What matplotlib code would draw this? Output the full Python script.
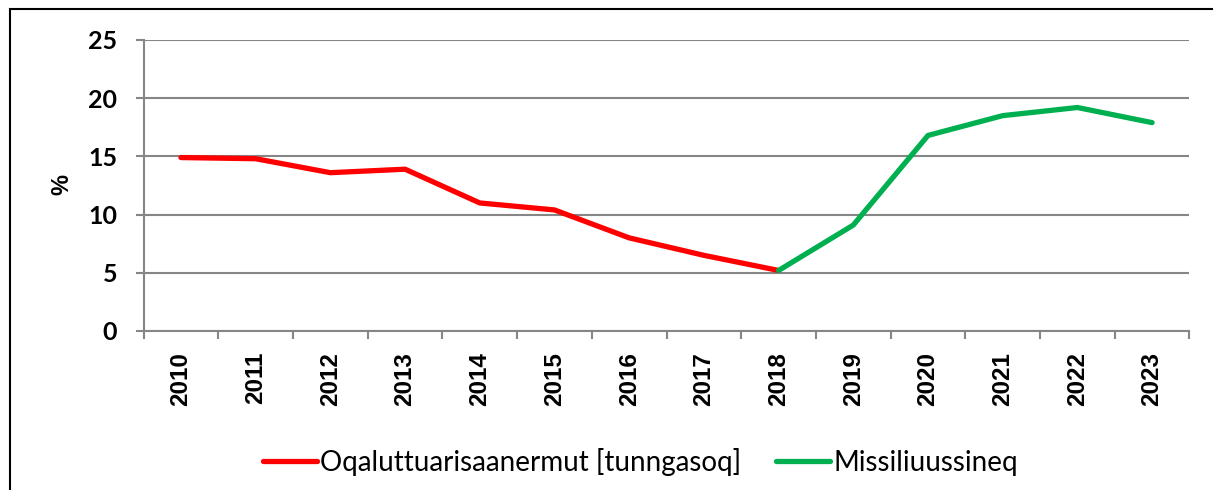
import matplotlib
matplotlib.use("Agg")
from matplotlib import pyplot as plt
from matplotlib.patches import Rectangle
from matplotlib.ticker import FixedLocator

# data
years = [str(y) for y in range(2010, 2024)]
hist_years = years[:9]          # 2010-2018
hist_vals = [14.9, 14.8, 13.6, 13.9, 11.0, 10.4, 8.0, 6.5, 5.2]
proj_years = years[8:]          # 2018-2023
proj_vals = [5.2, 9.1, 16.8, 18.5, 19.2, 17.9]
hist_label = "Oqaluttuarisaanermut [tunngasoq]"
proj_label = "Missiliuussineq"
y_ticks = [0, 5, 10, 15, 20, 25]

grey = "#868686"
fig = plt.figure(figsize=(12.13, 4.90), dpi=100)
ax = fig.add_axes([0.1184, 0.3245, 0.8622, 0.5939])

x_hist = [years.index(y) for y in hist_years]
x_proj = [years.index(y) for y in proj_years]
ax.plot(x_hist, hist_vals, color="#FF0000", lw=3.8, solid_capstyle="round",
        solid_joinstyle="round", label=hist_label, zorder=3)
ax.plot(x_proj, proj_vals, color="#00B050", lw=3.8, solid_capstyle="round",
        solid_joinstyle="round", label=proj_label, zorder=4)

ax.set_xlim(-0.5, len(years) - 0.5)
ax.set_ylim(0, 25)
ax.set_yticks(y_ticks)
ax.yaxis.grid(True, color=grey, lw=1.5)
ax.set_axisbelow(True)

for s in ["top", "right"]:
    ax.spines[s].set_visible(False)
for s in ["left", "bottom"]:
    ax.spines[s].set_color(grey)
    ax.spines[s].set_linewidth(1.5)

ax.set_xticks(range(len(years)))
ax.set_xticklabels(years, rotation=90, fontsize=17.5, fontweight="bold",
                   family="Liberation Sans")
ax.xaxis.set_minor_locator(FixedLocator([i - 0.5 for i in range(len(years) + 1)]))
ax.tick_params(axis="x", which="major", length=0, pad=15)
ax.tick_params(axis="x", which="minor", length=6, width=1.5, color=grey)
ax.tick_params(axis="y", length=6, width=1.5, color=grey, pad=13)
for t in ax.get_yticklabels():
    t.set_fontsize(18)
    t.set_fontweight("bold")
    t.set_family("Lato")

fig.text(62 / 1213, 1 - 184 / 490, "%", rotation=90, ha="center", va="center",
         fontsize=17, fontweight="bold", family="Liberation Sans")

leg = fig.legend(loc="center", bbox_to_anchor=(0.528, 0.057), ncol=2,
                 frameon=False, prop={"family": "Lato", "size": 20},
                 handlelength=1.95, handletextpad=0.12, columnspacing=1.25)

fig.patches.append(Rectangle((10 / 1213, -0.02), 1.1, 1 - 9 / 490 + 0.02,
                             transform=fig.transFigure, fill=False,
                             edgecolor="black", lw=1.5, zorder=0))

fig.savefig("out.png", dpi=100)
